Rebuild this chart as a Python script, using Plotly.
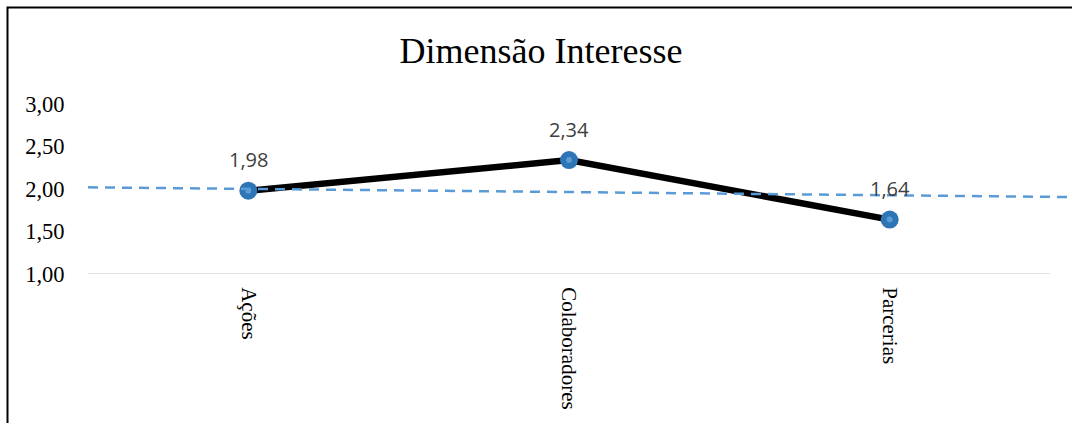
import plotly.graph_objects as go

# Chart data
categories = ["Ações", "Colaboradores", "Parcerias"]
values = [1.98, 2.34, 1.64]

# Linear trend line, read at its two ends (x in category index units)
trend_x = [-0.5, 2.57]
trend_y = [2.02, 1.905]

y_ticks = [1.0, 1.5, 2.0, 2.5, 3.0]

W, H = 1072, 423
L, R, T, B = 88, 0, 104, 149
plot_w = W - L - R
plot_h = H - T - B
x_lo, x_hi = -0.5, 2.5 + 22 / 321  # extra room so the trend runs to the edge

x_idx = list(range(len(categories)))
label_text = [f"{v:.2f}".replace(".", ",") for v in values]

fig = go.Figure()

# Main series: thick black line
fig.add_trace(go.Scatter(
    x=x_idx, y=values, mode="lines",
    line=dict(color="#000000", width=6.5),
    hoverinfo="skip", showlegend=False,
))
# Markers with a lighter centre dot
fig.add_trace(go.Scatter(
    x=x_idx, y=values, mode="markers",
    marker=dict(size=18, color="#2E75B6", line=dict(width=0)),
    showlegend=False,
))
fig.add_trace(go.Scatter(
    x=x_idx, y=values, mode="markers",
    marker=dict(size=6, color="#5B9BD5", line=dict(width=0)),
    hoverinfo="skip", showlegend=False,
))
# Dashed trend line
fig.add_trace(go.Scatter(
    x=trend_x, y=trend_y, mode="lines",
    line=dict(color="#5B9BD5", width=2.5, dash="10px,7px"),
    hoverinfo="skip", showlegend=False,
))

# Value labels above each point
for xi, v, t in zip(x_idx, values, label_text):
    fig.add_annotation(
        x=xi, y=v, text=t, showarrow=False, yshift=31,
        font=dict(family="Open Sans", size=20, color="#404040"),
    )

# Baseline at the axis minimum
fig.add_shape(
    type="line", xref="x", yref="y", x0=-0.5, x1=2.5, y0=1.0, y1=1.0,
    line=dict(color="#D9D9D9", width=1.5), layer="below",
)

# Outer chart frame (left and top edges visible)
px = lambda p: (p - L) / plot_w
py = lambda p: 1 + (T - p) / plot_h
fig.add_shape(
    type="rect", xref="paper", yref="paper",
    x0=px(7.5), x1=px(W + 40), y0=py(H + 40), y1=py(7.5),
    line=dict(color="#000000", width=2), fillcolor="rgba(0,0,0,0)",
)

fig.update_layout(
    width=W, height=H,
    margin=dict(l=L, r=R, t=T, b=B),
    paper_bgcolor="white", plot_bgcolor="white",
    separators=",.",
    title=dict(
        text="Dimensão Interesse",
        font=dict(family="Liberation Serif", size=36, color="#000000"),
        x=541 / W, xref="container", xanchor="center",
        y=1 - 50 / H, yref="container", yanchor="middle",
    ),
    xaxis=dict(
        range=[x_lo, x_hi], tickmode="array", tickvals=x_idx, ticktext=categories,
        tickangle=90, showgrid=False, zeroline=False, showline=False,
        ticks="outside", ticklen=8, tickcolor="rgba(0,0,0,0)",
        tickfont=dict(family="Liberation Serif", size=21, color="#000000"),
        fixedrange=True,
    ),
    yaxis=dict(
        range=[1.0, 3.0], tickmode="array", tickvals=y_ticks, tickformat=".2f",
        showgrid=False, zeroline=False, showline=False,
        ticks="outside", ticklen=18, tickcolor="rgba(0,0,0,0)",
        tickfont=dict(family="Liberation Serif", size=22.5, color="#000000"),
        fixedrange=True,
    ),
)

fig.write_html("out.html")
